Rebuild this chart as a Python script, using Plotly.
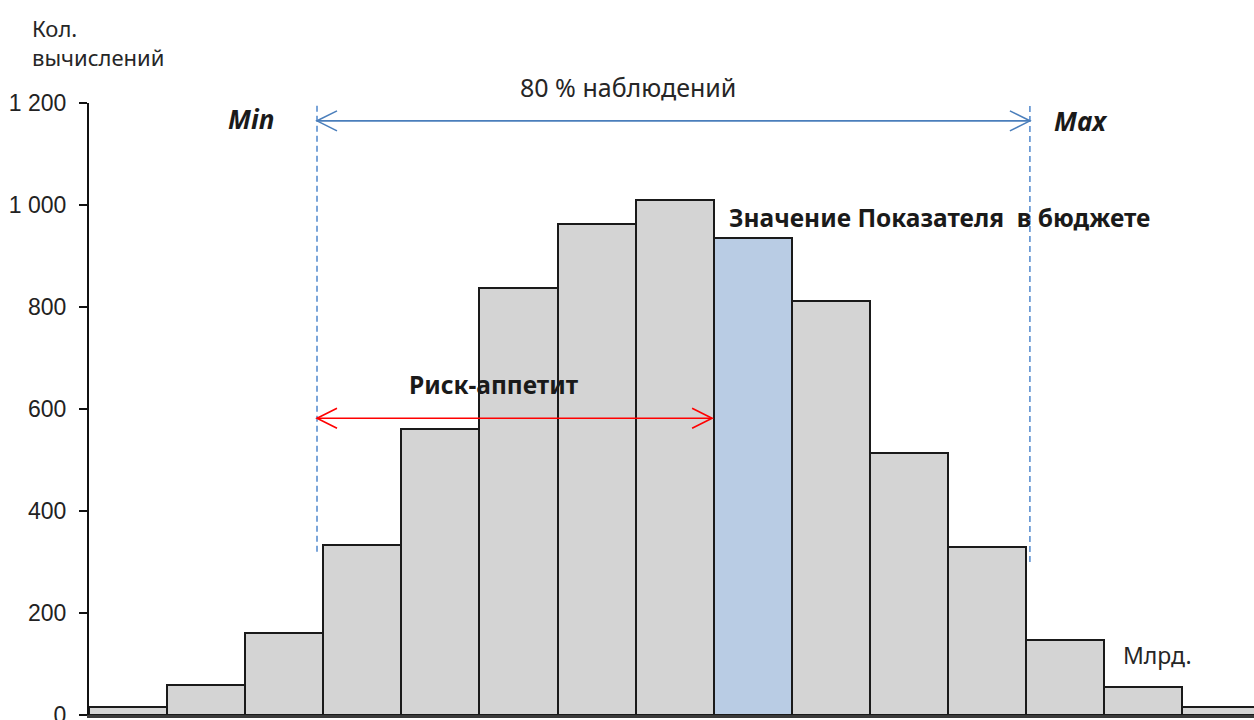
import plotly.graph_objects as go

# ---- data ----
bins = list(range(15))
counts = [15, 58, 160, 333, 561, 837, 963, 1010, 936, 812, 514, 330, 148, 54, 15]
budget_bin = 8
y_ticks = [0, 200, 400, 600, 800, 1000, 1200]

min_x = 2.42
max_x = 11.55
budget_x = 7.48
obs_arrow_y = 1165
risk_arrow_y = 582
min_line = (320, 1229)
max_line = (300, 1220)

bar_fill = ["#b9cce4" if b == budget_bin else "#d4d4d4" for b in bins]

FONT = "Noto Sans"
TXT = "#262626"

fig = go.Figure()
fig.add_trace(go.Bar(
    x=bins, y=counts, width=1,
    marker=dict(color=bar_fill, line=dict(color="#1a1a1a", width=2)),
    hoverinfo="x+y", showlegend=False,
))

shapes = []
dash_style = dict(color="#5b8fd0", width=1.6, dash="6px,4px")
shapes.append(dict(type="line", xref="x", yref="y", x0=min_x, x1=min_x,
                   y0=min_line[0], y1=min_line[1], line=dash_style))
shapes.append(dict(type="line", xref="x", yref="y", x0=max_x, x1=max_x,
                   y0=max_line[0], y1=max_line[1], line=dash_style))

def arrow(x0, x1, y, color):
    out = [dict(type="line", xref="x", yref="y", x0=x0, x1=x1, y0=y, y1=y,
                line=dict(color=color, width=1.6))]
    for xa, d in ((x0, 1), (x1, -1)):
        out.append(dict(type="path", xref="x", yref="y",
                        xsizemode="pixel", ysizemode="pixel",
                        xanchor=xa, yanchor=y,
                        path=f"M {d*20},10 L 0,0 L {d*20},-10",
                        line=dict(color=color, width=1.6)))
    return out

shapes += arrow(min_x, max_x, obs_arrow_y, "#4a7ebb")
shapes += arrow(min_x, budget_x, risk_arrow_y, "#ff0000")

BOLD = "#1a1a1a"
annotations = [
    dict(text="Кол.", xref="paper", yref="paper", x=-0.0506, y=1.1225,
         xanchor="left", yanchor="middle", showarrow=False,
         font=dict(family=FONT, size=22, color=TXT)),
    dict(text="вычислений", xref="paper", yref="paper", x=-0.0506, y=1.075,
         xanchor="left", yanchor="middle", showarrow=False,
         font=dict(family=FONT, size=22, color=TXT)),
    dict(text="80 % наблюдений", xref="x", yref="paper", x=6.4, y=1.026,
         xanchor="center", yanchor="middle", showarrow=False,
         font=dict(family=FONT, size=25, color=TXT)),
    dict(text="<b><i>Min</i></b>", xref="x", yref="y", x=1.57, y=1169,
         xanchor="center", yanchor="middle", showarrow=False,
         font=dict(family=FONT, size=26, color=BOLD)),
    dict(text="<b><i>Max</i></b>", xref="x", yref="y", x=12.21, y=1165,
         xanchor="center", yanchor="middle", showarrow=False,
         font=dict(family=FONT, size=26, color=BOLD)),
    dict(text="<b>Значение Показателя  в бюджете</b>", xref="x", yref="y",
         x=7.67, y=976, xanchor="left", yanchor="middle", showarrow=False,
         font=dict(family=FONT, size=24.5, color=BOLD)),
    dict(text="<b>Риск-аппетит</b>", xref="x", yref="y", x=4.69, y=649,
         xanchor="center", yanchor="middle", showarrow=False,
         font=dict(family=FONT, size=24.5, color=BOLD)),
    dict(text="Млрд.", xref="x", yref="y", x=13.19, y=118,
         xanchor="center", yanchor="middle", showarrow=False,
         font=dict(family=FONT, size=23, color=TXT)),
]

fig.update_layout(
    width=1254, height=720,
    margin=dict(l=89, r=0, t=103, b=5, pad=0, autoexpand=False),
    paper_bgcolor="white", plot_bgcolor="white",
    bargap=0,
    separators=", ",
    shapes=shapes,
    annotations=annotations,
    showlegend=False,
)
fig.update_xaxes(range=[-0.5, 14.42], showgrid=False, zeroline=False,
                 showline=True, linecolor="#3a3a3a", linewidth=2.5,
                 showticklabels=False, ticks="", automargin=False)
fig.update_yaxes(range=[0, 1200], showgrid=False, zeroline=False,
                 showline=True, linecolor="#111111", linewidth=2,
                 ticks="outside", ticklen=8, tickwidth=1.5, tickcolor="#111111",
                 tickvals=y_ticks, separatethousands=True, tickformat=",d",
                 ticklabelstandoff=8, ticklabeloverflow="allow", automargin=False,
                 tickfont=dict(family="Liberation Sans", size=23, color="#222222"))

fig.write_html("out.html", post_script="document.body.style.margin='0';",
               config={"displayModeBar": False})
